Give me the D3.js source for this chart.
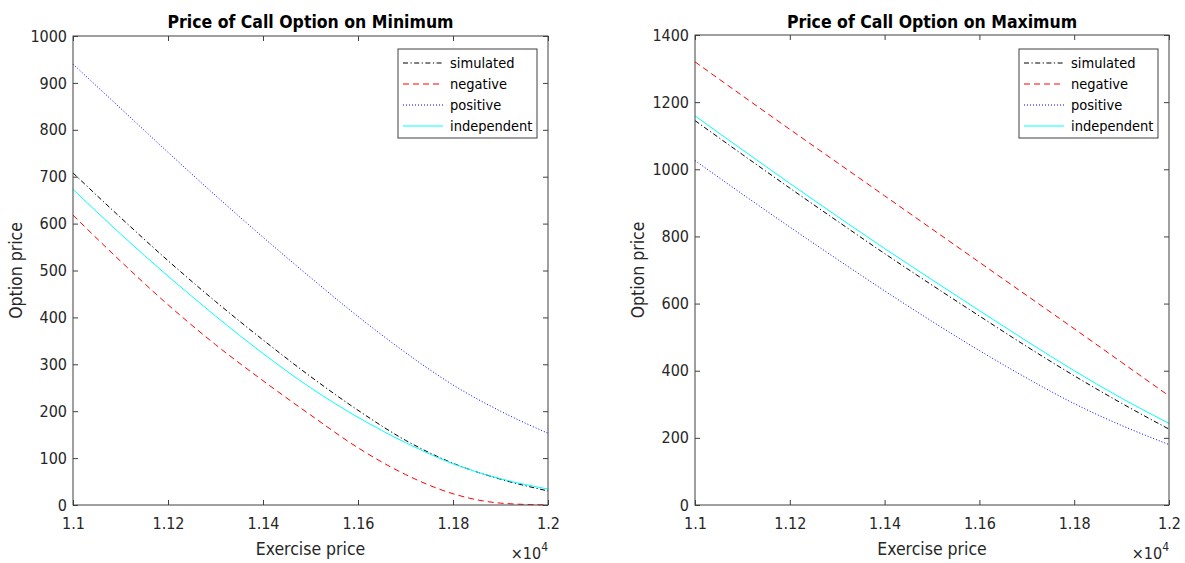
<!DOCTYPE html>
<html>
<head>
<meta charset="utf-8">
<script src="https://d3js.org/d3.v7.min.js"></script>
<style>
  body { margin:0; background:#fff; }
  text { font-family: "DejaVu Sans Condensed", "DejaVu Sans", sans-serif; font-stretch:condensed; fill:#262626; }
  .title { font-weight:bold; font-size:17.5px; fill:#000; text-anchor:middle; }
  .tick text { font-size:16px; fill:#262626; }
  .tick line { stroke:#404040; }
  .label { font-size:17.5px; text-anchor:middle; }
  .legend text { font-size:14.5px; fill:#000; }
  .frame { fill:none; stroke:#404040; stroke-width:1; }
  .series { fill:none; stroke-width:1; }
</style>
</head>
<body>
<script>
// exercise prices
const strikes = [11000, 11100, 11200, 11300, 11400, 11500, 11600, 11700, 11800, 11900, 12000]

// call on minimum
const minSimulated   = [708, 613, 521, 434, 352, 274, 202, 138, 89, 55, 30]
const minNegative    = [618, 520, 427, 342, 265, 192, 122, 65, 24, 4, 0]
const minPositive    = [940, 846, 752, 660, 571, 485, 402, 325, 256, 200, 153]
const minIndependent = [673, 578, 488, 403, 323, 250, 187, 133, 88, 56, 34]

// call on maximum
const maxSimulated   = [1145, 1044, 944, 846, 749, 655, 563, 472, 385, 303, 226]
const maxNegative    = [1320, 1219, 1119, 1020, 921, 822, 723, 624, 525, 425, 325]
const maxPositive    = [1026, 926, 828, 732, 638, 547, 460, 378, 302, 237, 180]
const maxIndependent = [1159, 1058, 958, 860, 764, 671, 579, 488, 400, 318, 243]

const seriesNames = ['simulated', 'negative', 'positive', 'independent']
const xTicks = [11000, 11200, 11400, 11600, 11800, 12000]
const minTicks = [0, 100, 200, 300, 400, 500, 600, 700, 800, 900, 1000]
const maxTicks = [0, 200, 400, 600, 800, 1000, 1200, 1400]

const styles = {
  simulated:   {color:'#000000', dash:'5,2.5,1.2,2.5'},
  negative:    {color:'#ff0000', dash:'6,4'},
  positive:    {color:'#0000ff', dash:'1,2'},
  independent: {color:'#00ffff', dash:null},
}

const svg = d3.select('body').append('svg')
  .attr('width', 1185)
  .attr('height', 563)

function panel(box, title, values, yTicks, yMax){
  const g = svg.append('g')
  const x = d3.scaleLinear().domain([11000, 12000]).range([box.x0, box.x1])
  const y = d3.scaleLinear().domain([0, yMax]).range([box.y1, box.y0])

  // series
  const line = d3.line().x((d,i) => x(strikes[i])).y(d => y(d)).curve(d3.curveMonotoneX)
  seriesNames.forEach((name,k) => {
    g.append('path')
      .attr('class','series')
      .attr('d', line(values[k]))
      .attr('stroke', styles[name].color)
      .attr('stroke-dasharray', styles[name].dash)
  })

  // axes, ticks pointing inward
  g.append('g').attr('transform',`translate(0,${box.y1})`)
    .call(d3.axisBottom(x).tickValues(xTicks).tickSize(-5).tickPadding(13).tickFormat(d => d/1e4))
  g.append('g').attr('transform',`translate(${box.x0},0)`)
    .call(d3.axisLeft(y).tickValues(yTicks).tickSize(-5).tickPadding(6).tickFormat(d3.format('d')))
  g.append('g').attr('transform',`translate(0,${box.y0})`)
    .call(d3.axisTop(x).tickValues(xTicks).tickSize(-5).tickFormat(''))
  g.append('g').attr('transform',`translate(${box.x1},0)`)
    .call(d3.axisRight(y).tickValues(yTicks).tickSize(-5).tickFormat(''))
  g.selectAll('.domain').remove()

  g.append('rect').attr('class','frame')
    .attr('x', box.x0).attr('y', box.y0)
    .attr('width', box.x1-box.x0).attr('height', box.y1-box.y0)

  g.append('text').attr('class','title')
    .attr('x', (box.x0+box.x1)/2).attr('y', 28)
    .text(title)

  g.append('text').attr('class','label')
    .attr('x', (box.x0+box.x1)/2).attr('y', 555)
    .text('Exercise price')

  g.append('text').attr('class','label')
    .attr('transform', `translate(${box.x0-51},${(box.y0+box.y1)/2}) rotate(-90)`)
    .text('Option price')

  const exp = g.append('text').attr('x', box.x1).attr('y', 559)
    .attr('text-anchor','end').style('font-size','16px')
  exp.append('tspan').text('\u00d710')
  exp.append('tspan').attr('dy', -8).style('font-size','12px').text('4')

  // legend
  const lw = 139, lh = 89
  const lx = box.x1 - 11 - lw, ly = 49
  const leg = g.append('g').attr('class','legend')
  leg.append('rect')
    .attr('x', lx).attr('y', ly).attr('width', lw).attr('height', lh)
    .attr('fill','#fff').attr('stroke','#404040').attr('stroke-width',1)
  seriesNames.forEach((name,k) => {
    const cy = ly + 14 + k*21
    leg.append('line')
      .attr('x1', lx+5).attr('x2', lx+45).attr('y1', cy).attr('y2', cy)
      .attr('stroke', styles[name].color)
      .attr('stroke-dasharray', styles[name].dash)
    leg.append('text')
      .attr('x', lx+52).attr('y', cy).attr('dy','0.35em')
      .text(name)
  })
}

panel({x0:73, x1:548, y0:36, y1:505}, 'Price of Call Option on Minimum',
  [minSimulated, minNegative, minPositive, minIndependent], minTicks, 1000)
panel({x0:695, x1:1169, y0:35, y1:505}, 'Price of Call Option on Maximum',
  [maxSimulated, maxNegative, maxPositive, maxIndependent], maxTicks, 1400)
</script>
</body>
</html>
